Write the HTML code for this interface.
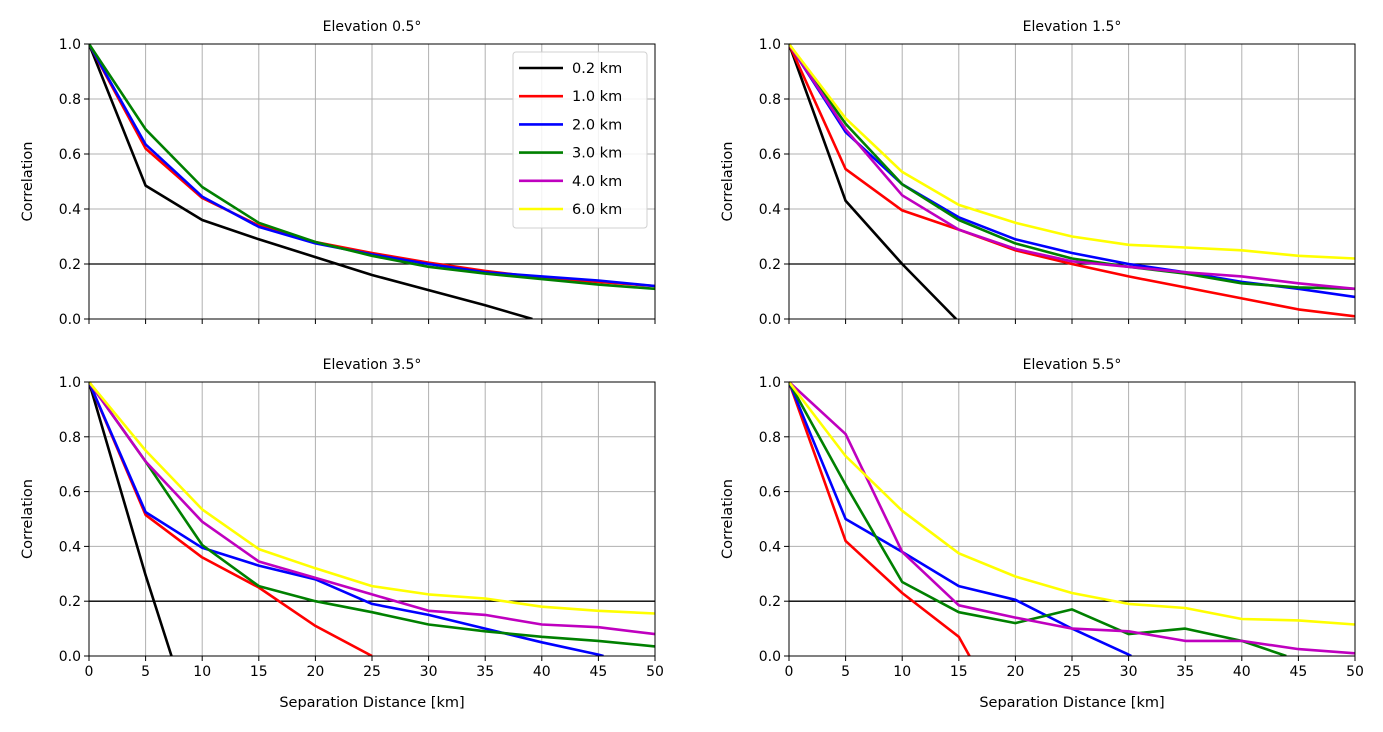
<!DOCTYPE html>
<html><head><meta charset="utf-8"><style>
html,body{margin:0;background:#fff;width:1383px;height:732px;overflow:hidden}
svg{display:block;overflow:hidden;font-family:"DejaVu Sans","Liberation Sans",sans-serif}
</style></head><body>
<svg id="fig" width="1383" height="732" viewBox="0 0 1383 732"></svg>
<script>
const xTicks=[0,5,10,15,20,25,30,35,40,45,50];
const yTicks=[0,0.2,0.4,0.6,0.8,1.0];
const yTickLabels=["0.0","0.2","0.4","0.6","0.8","1.0"];
const distances=[0,5,10,15,20,25,30,35,40,45,50];
const seriesNames=["0.2 km","1.0 km","2.0 km","3.0 km","4.0 km","6.0 km"];
const seriesColors=["#000000","#ff0000","#0000ff","#008000","#bf00bf","#ffff00"];
const titles=["Elevation 0.5°","Elevation 1.5°","Elevation 3.5°","Elevation 5.5°"];
const threshold=0.2;
// panel 1
const p1_02=[1,0.485,0.36,0.29,0.225,0.16,0.105,0.05,-0.01,-0.07,-0.13];
const p1_10=[1,0.62,0.44,0.34,0.28,0.24,0.205,0.175,0.15,0.135,0.12];
const p1_20=[1,0.635,0.445,0.335,0.275,0.235,0.2,0.17,0.155,0.14,0.12];
const p1_30=[1,0.69,0.48,0.35,0.28,0.23,0.19,0.165,0.145,0.125,0.11];
// panel 2
const p2_02=[1,0.43,0.2,-0.01,-0.2,-0.4,-0.6,-0.8,-1,-1.2,-1.4];
const p2_10=[1,0.545,0.395,0.325,0.25,0.2,0.155,0.115,0.075,0.035,0.01];
const p2_20=[1,0.68,0.49,0.37,0.29,0.24,0.2,0.17,0.135,0.11,0.08];
const p2_30=[1,0.71,0.49,0.36,0.275,0.22,0.19,0.165,0.13,0.115,0.11];
const p2_40=[1,0.69,0.45,0.325,0.255,0.21,0.19,0.17,0.155,0.13,0.11];
const p2_60=[1,0.73,0.535,0.415,0.35,0.3,0.27,0.26,0.25,0.23,0.22];
// panel 3
const p3_02=[1,0.295,-0.35,-1,-1.6,-2.2,-2.8,-3.4,-4,-4.6,-5.2];
const p3_10=[1,0.515,0.36,0.25,0.11,0,-0.1,-0.2,-0.3,-0.4,-0.5];
const p3_20=[1,0.525,0.395,0.33,0.28,0.19,0.15,0.1,0.05,0.005,-0.05];
const p3_30=[1,0.71,0.405,0.255,0.2,0.16,0.115,0.09,0.07,0.055,0.035];
const p3_40=[1,0.71,0.49,0.345,0.285,0.225,0.165,0.15,0.115,0.105,0.08];
const p3_60=[1,0.75,0.535,0.39,0.32,0.255,0.225,0.21,0.18,0.165,0.155];
// panel 4
const p4_10=[1,0.42,0.23,0.07,-0.3,-0.6,-0.9,-1.2,-1.5,-1.8,-2.1];
const p4_20=[1,0.5,0.38,0.255,0.205,0.1,0.005,-0.1,-0.2,-0.3,-0.4];
const p4_30=[1,0.625,0.27,0.16,0.12,0.17,0.08,0.1,0.055,-0.015,-0.08];
const p4_40=[1,0.81,0.38,0.185,0.14,0.1,0.09,0.055,0.055,0.025,0.01];
const p4_60=[1,0.73,0.53,0.375,0.29,0.23,0.19,0.175,0.135,0.13,0.115];

const panelSeries=[
 [[0,p1_02],[1,p1_10],[2,p1_20],[3,p1_30]],
 [[0,p2_02],[1,p2_10],[2,p2_20],[3,p2_30],[4,p2_40],[5,p2_60]],
 [[0,p3_02],[1,p3_10],[2,p3_20],[3,p3_30],[4,p3_40],[5,p3_60]],
 [[1,p4_10],[2,p4_20],[3,p4_30],[4,p4_40],[5,p4_60]]
];
const boxes=[{l:89,r:655,t:44,b:319},{l:789,r:1355,t:44,b:319},{l:89,r:655,t:382,b:656},{l:789,r:1355,t:382,b:656}];
const NS="http://www.w3.org/2000/svg";
const svg=document.getElementById('fig');
function mk(tag,attrs,parent){const e=document.createElementNS(NS,tag);for(const k in attrs)e.setAttribute(k,attrs[k]);(parent||svg).appendChild(e);return e;}
const defs=mk('defs',{});
// clamp helper: only for drawing, clip-path also applied
boxes.forEach((B,pi)=>{
 const sx=v=>B.l+(v-0)/(50-0)*(B.r-B.l);
 const sy=v=>B.b-(v-0)/(1-0)*(B.b-B.t);
 const g=mk('g',{});
 
 
 const cp=mk('clipPath',{id:'clip'+pi},defs);
 mk('rect',{x:B.l,y:B.t-2,width:B.r-B.l,height:B.b-B.t+2},cp);
 xTicks.forEach(t=>{const l=mk('line',{x1:sx(t),x2:sx(t),y1:B.t,y2:B.b,stroke:'#b0b0b0','stroke-width':1},g);});
 yTicks.forEach(t=>{const l=mk('line',{x1:B.l,x2:B.r,y1:sy(t),y2:sy(t),stroke:'#b0b0b0','stroke-width':1},g);});
 const th=mk('line',{x1:B.l,x2:B.r,y1:sy(threshold),y2:sy(threshold),stroke:'#000','stroke-width':1.3},g);
 
 const sg=mk('g',{'clip-path':'url(#clip'+pi+')'},g);
 panelSeries[pi].forEach(([ci,vals])=>{
  // truncate at first crossing below 0 to keep geometry inside frame
  const pts=[];
  for(let i=0;i<vals.length;i++){
   if(vals[i]>=0){pts.push([distances[i],vals[i]]);}
   else{const x0=distances[i-1],y0=vals[i-1],x1=distances[i],y1=vals[i];const xz=x0+(x1-x0)*(y0/(y0-y1));pts.push([xz,0]);break;}
  }
  const p=mk('polyline',{points:pts.map(q=>sx(q[0]).toFixed(1)+','+sy(q[1]).toFixed(1)).join(' '),fill:'none',stroke:seriesColors[ci],'stroke-width':2.6,'stroke-linejoin':'round'},sg);
  
  
 });
 mk('rect',{x:B.l,y:B.t,width:B.r-B.l,height:B.b-B.t,fill:'none',stroke:'#000','stroke-width':1},g);
 xTicks.forEach(t=>{mk('line',{x1:sx(t),x2:sx(t),y1:B.b,y2:B.b+5,stroke:'#000'},g);
  if(pi>=2){const tx=mk('text',{x:sx(t),y:B.b+20,'font-size':14,'text-anchor':'middle'},g);tx.textContent=t;}});
 yTicks.forEach((t,i)=>{mk('line',{x1:B.l-5,x2:B.l,y1:sy(t),y2:sy(t),stroke:'#000'},g);
  const tx=mk('text',{x:B.l-8,y:sy(t)+5,'font-size':14,'text-anchor':'end'},g);tx.textContent=yTickLabels[i];});
 const tt=mk('text',{x:(B.l+B.r)/2,y:B.t-13,'font-size':14,'text-anchor':'middle'},g);tt.textContent=titles[pi];
 
 const yl=mk('text',{x:0,y:0,'font-size':14.5,'text-anchor':'middle',transform:`translate(${B.l-57},${(B.t+B.b)/2}) rotate(-90)`},g);yl.textContent='Correlation';
 
 if(pi>=2){const xl=mk('text',{x:(B.l+B.r)/2,y:B.b+51,'font-size':14.5,'text-anchor':'middle'},g);xl.textContent='Separation Distance [km]';
  }
});
const lg=mk('g',{});


mk('rect',{x:513,y:52,width:134,height:176,rx:3,fill:'#fff','fill-opacity':0.85,stroke:'#d0d0d0'},lg);
seriesNames.forEach((n,i)=>{
 const y=68+i*28.2;
 const e=mk('g',{},lg);
 
 
 mk('line',{x1:519,x2:563,y1:y,y2:y,stroke:seriesColors[i],'stroke-width':2.6},e);
 const t=mk('text',{x:572,y:y+5,'font-size':14.5},e);t.textContent=n;
});
</script>
</body></html>
